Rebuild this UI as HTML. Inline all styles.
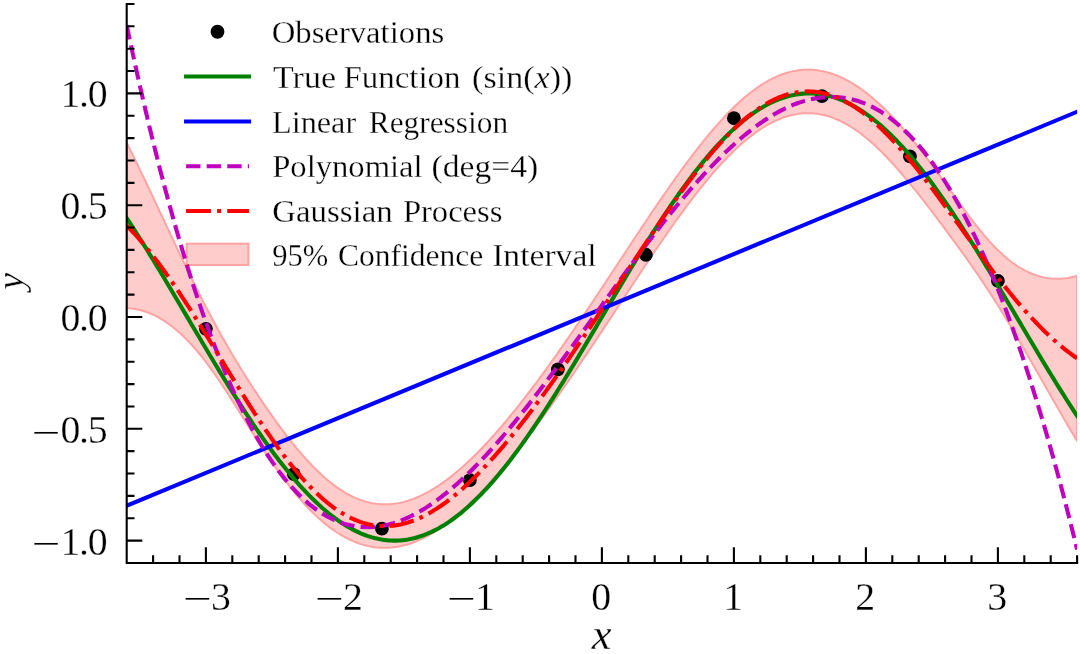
<!DOCTYPE html>
<html><head><meta charset="utf-8"><title>GP regression</title>
<style>html,body{margin:0;padding:0;background:#fff;overflow:hidden;}svg{display:block;will-change:transform;}text{font-family:"Liberation Serif",serif;fill:#000;stroke:#fff;stroke-width:0.3px;}</style></head>
<body>
<svg width="1080" height="654" viewBox="0 0 1080 654">
<rect width="1080" height="654" fill="#fff"/>
<defs><clipPath id="ax"><rect x="126.70" y="3.96" width="950.40" height="559.00"/></clipPath></defs>
<g clip-path="url(#ax)">
<g opacity="0.2"><path d="M126.70 142.98 L129.08 147.74 L131.46 152.54 L133.85 157.38 L136.23 162.25 L138.61 167.15 L140.99 172.08 L143.37 177.03 L145.76 182.01 L148.14 187.01 L150.52 192.02 L152.90 197.05 L155.28 202.10 L157.67 207.15 L160.05 212.21 L162.43 217.28 L164.81 222.35 L167.19 227.41 L169.58 232.48 L171.96 237.53 L174.34 242.57 L176.72 247.60 L179.10 252.62 L181.48 257.61 L183.87 262.58 L186.25 267.52 L188.63 272.43 L191.01 277.31 L193.39 282.15 L195.78 286.96 L198.16 291.72 L200.54 296.44 L202.92 301.11 L205.30 305.74 L207.69 310.31 L210.07 314.83 L212.45 319.30 L214.83 323.72 L217.21 328.08 L219.60 332.39 L221.98 336.65 L224.36 340.86 L226.74 345.01 L229.12 349.12 L231.51 353.17 L233.89 357.18 L236.27 361.15 L238.65 365.07 L241.03 368.95 L243.42 372.79 L245.80 376.59 L248.18 380.35 L250.56 384.07 L252.94 387.76 L255.33 391.41 L257.71 395.02 L260.09 398.60 L262.47 402.13 L264.85 405.63 L267.24 409.10 L269.62 412.52 L272.00 415.91 L274.38 419.25 L276.76 422.55 L279.15 425.81 L281.53 429.02 L283.91 432.19 L286.29 435.31 L288.67 438.38 L291.05 441.40 L293.44 444.37 L295.82 447.28 L298.20 450.13 L300.58 452.93 L302.96 455.67 L305.35 458.35 L307.73 460.97 L310.11 463.52 L312.49 466.00 L314.87 468.42 L317.26 470.77 L319.64 473.04 L322.02 475.25 L324.40 477.38 L326.78 479.44 L329.17 481.42 L331.55 483.32 L333.93 485.15 L336.31 486.89 L338.69 488.56 L341.08 490.14 L343.46 491.65 L345.84 493.07 L348.22 494.40 L350.60 495.66 L352.99 496.83 L355.37 497.91 L357.75 498.91 L360.13 499.83 L362.51 500.66 L364.90 501.40 L367.28 502.07 L369.66 502.64 L372.04 503.14 L374.42 503.54 L376.81 503.87 L379.19 504.11 L381.57 504.27 L383.95 504.35 L386.33 504.34 L388.72 504.26 L391.10 504.09 L393.48 503.85 L395.86 503.53 L398.24 503.13 L400.62 502.66 L403.01 502.10 L405.39 501.48 L407.77 500.78 L410.15 500.01 L412.53 499.17 L414.92 498.25 L417.30 497.27 L419.68 496.22 L422.06 495.10 L424.44 493.92 L426.83 492.67 L429.21 491.36 L431.59 489.98 L433.97 488.55 L436.35 487.05 L438.74 485.49 L441.12 483.88 L443.50 482.20 L445.88 480.47 L448.26 478.69 L450.65 476.85 L453.03 474.96 L455.41 473.02 L457.79 471.02 L460.17 468.98 L462.56 466.88 L464.94 464.74 L467.32 462.55 L469.70 460.32 L472.08 458.04 L474.47 455.71 L476.85 453.34 L479.23 450.93 L481.61 448.48 L483.99 445.99 L486.38 443.45 L488.76 440.88 L491.14 438.27 L493.52 435.63 L495.90 432.94 L498.28 430.22 L500.67 427.47 L503.05 424.68 L505.43 421.86 L507.81 419.01 L510.19 416.12 L512.58 413.20 L514.96 410.26 L517.34 407.28 L519.72 404.27 L522.10 401.24 L524.49 398.18 L526.87 395.09 L529.25 391.98 L531.63 388.84 L534.01 385.68 L536.40 382.49 L538.78 379.28 L541.16 376.05 L543.54 372.79 L545.92 369.51 L548.31 366.22 L550.69 362.90 L553.07 359.56 L555.45 356.21 L557.83 352.83 L560.22 349.44 L562.60 346.03 L564.98 342.61 L567.36 339.17 L569.74 335.71 L572.13 332.24 L574.51 328.76 L576.89 325.26 L579.27 321.75 L581.65 318.23 L584.04 314.70 L586.42 311.16 L588.80 307.61 L591.18 304.04 L593.56 300.47 L595.95 296.90 L598.33 293.31 L600.71 289.72 L603.09 286.12 L605.47 282.52 L607.85 278.91 L610.24 275.30 L612.62 271.69 L615.00 268.07 L617.38 264.46 L619.76 260.84 L622.15 257.22 L624.53 253.61 L626.91 249.99 L629.29 246.38 L631.67 242.77 L634.06 239.17 L636.44 235.57 L638.82 231.98 L641.20 228.40 L643.58 224.83 L645.97 221.26 L648.35 217.71 L650.73 214.17 L653.11 210.64 L655.49 207.12 L657.88 203.62 L660.26 200.13 L662.64 196.66 L665.02 193.21 L667.40 189.78 L669.79 186.37 L672.17 182.99 L674.55 179.62 L676.93 176.28 L679.31 172.97 L681.70 169.68 L684.08 166.42 L686.46 163.20 L688.84 160.00 L691.22 156.83 L693.61 153.70 L695.99 150.61 L698.37 147.55 L700.75 144.53 L703.13 141.55 L705.52 138.61 L707.90 135.71 L710.28 132.86 L712.66 130.05 L715.04 127.29 L717.42 124.58 L719.81 121.92 L722.19 119.31 L724.57 116.75 L726.95 114.25 L729.33 111.80 L731.72 109.41 L734.10 107.08 L736.48 104.80 L738.86 102.59 L741.24 100.44 L743.63 98.36 L746.01 96.34 L748.39 94.38 L750.77 92.49 L753.15 90.67 L755.54 88.92 L757.92 87.24 L760.30 85.64 L762.68 84.10 L765.06 82.64 L767.45 81.26 L769.83 79.94 L772.21 78.71 L774.59 77.55 L776.97 76.47 L779.36 75.47 L781.74 74.54 L784.12 73.70 L786.50 72.93 L788.88 72.25 L791.27 71.64 L793.65 71.12 L796.03 70.67 L798.41 70.31 L800.79 70.03 L803.18 69.83 L805.56 69.71 L807.94 69.67 L810.32 69.71 L812.70 69.84 L815.08 70.04 L817.47 70.33 L819.85 70.69 L822.23 71.13 L824.61 71.65 L826.99 72.25 L829.38 72.93 L831.76 73.69 L834.14 74.52 L836.52 75.43 L838.90 76.42 L841.29 77.48 L843.67 78.61 L846.05 79.82 L848.43 81.10 L850.81 82.46 L853.20 83.88 L855.58 85.38 L857.96 86.95 L860.34 88.58 L862.72 90.28 L865.11 92.06 L867.49 93.89 L869.87 95.80 L872.25 97.77 L874.63 99.80 L877.02 101.89 L879.40 104.05 L881.78 106.27 L884.16 108.55 L886.54 110.89 L888.93 113.29 L891.31 115.74 L893.69 118.25 L896.07 120.81 L898.45 123.43 L900.84 126.10 L903.22 128.82 L905.60 131.59 L907.98 134.41 L910.36 137.28 L912.75 140.19 L915.13 143.14 L917.51 146.14 L919.89 149.17 L922.27 152.24 L924.65 155.35 L927.04 158.49 L929.42 161.67 L931.80 164.87 L934.18 168.10 L936.56 171.35 L938.95 174.62 L941.33 177.91 L943.71 181.21 L946.09 184.52 L948.47 187.85 L950.86 191.17 L953.24 194.49 L955.62 197.81 L958.00 201.12 L960.38 204.41 L962.77 207.68 L965.15 210.93 L967.53 214.14 L969.91 217.32 L972.29 220.46 L974.68 223.55 L977.06 226.59 L979.44 229.57 L981.82 232.49 L984.20 235.34 L986.59 238.12 L988.97 240.82 L991.35 243.45 L993.73 245.98 L996.11 248.43 L998.50 250.79 L1000.88 253.06 L1003.26 255.24 L1005.64 257.32 L1008.02 259.30 L1010.41 261.19 L1012.79 262.98 L1015.17 264.67 L1017.55 266.26 L1019.93 267.76 L1022.32 269.15 L1024.70 270.45 L1027.08 271.66 L1029.46 272.76 L1031.84 273.77 L1034.22 274.69 L1036.61 275.51 L1038.99 276.24 L1041.37 276.87 L1043.75 277.41 L1046.13 277.86 L1048.52 278.22 L1050.90 278.49 L1053.28 278.67 L1055.66 278.76 L1058.04 278.76 L1060.43 278.68 L1062.81 278.52 L1065.19 278.26 L1067.57 277.93 L1069.95 277.51 L1072.34 277.02 L1074.72 276.44 L1077.10 275.79 L1077.10 440.99 L1074.72 437.00 L1072.34 432.98 L1069.95 428.95 L1067.57 424.89 L1065.19 420.81 L1062.81 416.71 L1060.43 412.59 L1058.04 408.46 L1055.66 404.32 L1053.28 400.16 L1050.90 396.00 L1048.52 391.83 L1046.13 387.65 L1043.75 383.47 L1041.37 379.28 L1038.99 375.10 L1036.61 370.92 L1034.22 366.74 L1031.84 362.58 L1029.46 358.42 L1027.08 354.27 L1024.70 350.14 L1022.32 346.02 L1019.93 341.93 L1017.55 337.85 L1015.17 333.80 L1012.79 329.78 L1010.41 325.78 L1008.02 321.81 L1005.64 317.88 L1003.26 313.98 L1000.88 310.12 L998.50 306.29 L996.11 302.50 L993.73 298.75 L991.35 295.04 L988.97 291.37 L986.59 287.73 L984.20 284.14 L981.82 280.58 L979.44 277.05 L977.06 273.56 L974.68 270.10 L972.29 266.67 L969.91 263.27 L967.53 259.89 L965.15 256.54 L962.77 253.21 L960.38 249.89 L958.00 246.60 L955.62 243.32 L953.24 240.06 L950.86 236.81 L948.47 233.58 L946.09 230.36 L943.71 227.16 L941.33 223.97 L938.95 220.79 L936.56 217.63 L934.18 214.48 L931.80 211.35 L929.42 208.24 L927.04 205.14 L924.65 202.07 L922.27 199.01 L919.89 195.98 L917.51 192.97 L915.13 189.99 L912.75 187.04 L910.36 184.12 L907.98 181.23 L905.60 178.37 L903.22 175.55 L900.84 172.77 L898.45 170.02 L896.07 167.32 L893.69 164.67 L891.31 162.06 L888.93 159.50 L886.54 156.99 L884.16 154.53 L881.78 152.13 L879.40 149.79 L877.02 147.50 L874.63 145.28 L872.25 143.11 L869.87 141.01 L867.49 138.98 L865.11 137.02 L862.72 135.12 L860.34 133.30 L857.96 131.55 L855.58 129.87 L853.20 128.26 L850.81 126.74 L848.43 125.29 L846.05 123.91 L843.67 122.62 L841.29 121.41 L838.90 120.28 L836.52 119.23 L834.14 118.26 L831.76 117.37 L829.38 116.57 L826.99 115.85 L824.61 115.22 L822.23 114.67 L819.85 114.20 L817.47 113.82 L815.08 113.53 L812.70 113.31 L810.32 113.19 L807.94 113.14 L805.56 113.18 L803.18 113.31 L800.79 113.51 L798.41 113.81 L796.03 114.18 L793.65 114.63 L791.27 115.17 L788.88 115.79 L786.50 116.49 L784.12 117.27 L781.74 118.13 L779.36 119.06 L776.97 120.08 L774.59 121.17 L772.21 122.34 L769.83 123.58 L767.45 124.90 L765.06 126.29 L762.68 127.75 L760.30 129.29 L757.92 130.89 L755.54 132.57 L753.15 134.32 L750.77 136.13 L748.39 138.01 L746.01 139.95 L743.63 141.96 L741.24 144.04 L738.86 146.17 L736.48 148.37 L734.10 150.62 L731.72 152.94 L729.33 155.31 L726.95 157.74 L724.57 160.22 L722.19 162.76 L719.81 165.35 L717.42 167.99 L715.04 170.68 L712.66 173.42 L710.28 176.21 L707.90 179.04 L705.52 181.92 L703.13 184.84 L700.75 187.80 L698.37 190.81 L695.99 193.85 L693.61 196.93 L691.22 200.05 L688.84 203.20 L686.46 206.38 L684.08 209.60 L681.70 212.85 L679.31 216.13 L676.93 219.44 L674.55 222.77 L672.17 226.13 L669.79 229.52 L667.40 232.92 L665.02 236.35 L662.64 239.80 L660.26 243.27 L657.88 246.76 L655.49 250.26 L653.11 253.78 L650.73 257.32 L648.35 260.87 L645.97 264.43 L643.58 268.00 L641.20 271.58 L638.82 275.17 L636.44 278.76 L634.06 282.37 L631.67 285.98 L629.29 289.59 L626.91 293.21 L624.53 296.83 L622.15 300.45 L619.76 304.07 L617.38 307.69 L615.00 311.31 L612.62 314.93 L610.24 318.55 L607.85 322.16 L605.47 325.77 L603.09 329.37 L600.71 332.97 L598.33 336.56 L595.95 340.14 L593.56 343.72 L591.18 347.29 L588.80 350.84 L586.42 354.39 L584.04 357.93 L581.65 361.46 L579.27 364.97 L576.89 368.48 L574.51 371.97 L572.13 375.44 L569.74 378.91 L567.36 382.36 L564.98 385.79 L562.60 389.21 L560.22 392.61 L557.83 396.00 L555.45 399.36 L553.07 402.71 L550.69 406.05 L548.31 409.36 L545.92 412.66 L543.54 415.93 L541.16 419.18 L538.78 422.42 L536.40 425.63 L534.01 428.82 L531.63 431.98 L529.25 435.13 L526.87 438.25 L524.49 441.34 L522.10 444.41 L519.72 447.45 L517.34 450.47 L514.96 453.45 L512.58 456.41 L510.19 459.34 L507.81 462.25 L505.43 465.12 L503.05 467.95 L500.67 470.76 L498.28 473.53 L495.90 476.27 L493.52 478.97 L491.14 481.64 L488.76 484.27 L486.38 486.86 L483.99 489.42 L481.61 491.93 L479.23 494.40 L476.85 496.83 L474.47 499.22 L472.08 501.57 L469.70 503.86 L467.32 506.12 L464.94 508.32 L462.56 510.48 L460.17 512.58 L457.79 514.64 L455.41 516.64 L453.03 518.60 L450.65 520.49 L448.26 522.34 L445.88 524.12 L443.50 525.85 L441.12 527.52 L438.74 529.14 L436.35 530.69 L433.97 532.18 L431.59 533.61 L429.21 534.98 L426.83 536.28 L424.44 537.52 L422.06 538.69 L419.68 539.79 L417.30 540.83 L414.92 541.80 L412.53 542.70 L410.15 543.53 L407.77 544.29 L405.39 544.97 L403.01 545.59 L400.62 546.13 L398.24 546.60 L395.86 547.00 L393.48 547.32 L391.10 547.57 L388.72 547.74 L386.33 547.84 L383.95 547.86 L381.57 547.81 L379.19 547.67 L376.81 547.47 L374.42 547.18 L372.04 546.82 L369.66 546.38 L367.28 545.86 L364.90 545.26 L362.51 544.59 L360.13 543.84 L357.75 543.00 L355.37 542.09 L352.99 541.11 L350.60 540.04 L348.22 538.89 L345.84 537.67 L343.46 536.36 L341.08 534.98 L338.69 533.52 L336.31 531.98 L333.93 530.37 L331.55 528.67 L329.17 526.90 L326.78 525.04 L324.40 523.12 L322.02 521.11 L319.64 519.03 L317.26 516.87 L314.87 514.63 L312.49 512.32 L310.11 509.93 L307.73 507.47 L305.35 504.94 L302.96 502.34 L300.58 499.66 L298.20 496.91 L295.82 494.09 L293.44 491.20 L291.05 488.25 L288.67 485.23 L286.29 482.15 L283.91 479.00 L281.53 475.79 L279.15 472.52 L276.76 469.20 L274.38 465.82 L272.00 462.39 L269.62 458.91 L267.24 455.38 L264.85 451.81 L262.47 448.19 L260.09 444.54 L257.71 440.86 L255.33 437.14 L252.94 433.40 L250.56 429.64 L248.18 425.86 L245.80 422.07 L243.42 418.28 L241.03 414.48 L238.65 410.68 L236.27 406.90 L233.89 403.13 L231.51 399.38 L229.12 395.67 L226.74 391.98 L224.36 388.34 L221.98 384.74 L219.60 381.19 L217.21 377.69 L214.83 374.26 L212.45 370.90 L210.07 367.60 L207.69 364.38 L205.30 361.23 L202.92 358.17 L200.54 355.18 L198.16 352.28 L195.78 349.47 L193.39 346.75 L191.01 344.11 L188.63 341.56 L186.25 339.11 L183.87 336.75 L181.48 334.48 L179.10 332.30 L176.72 330.22 L174.34 328.23 L171.96 326.33 L169.58 324.53 L167.19 322.82 L164.81 321.21 L162.43 319.69 L160.05 318.27 L157.67 316.94 L155.28 315.70 L152.90 314.56 L150.52 313.52 L148.14 312.56 L145.76 311.71 L143.37 310.94 L140.99 310.27 L138.61 309.69 L136.23 309.21 L133.85 308.81 L131.46 308.51 L129.08 308.30 L126.70 308.18 Z" fill="#f00" stroke="#f00" stroke-width="2.00" stroke-linejoin="round"/></g>
<path d="M126.70 142.98 L129.08 147.74 L131.46 152.54 L133.85 157.38 L136.23 162.25 L138.61 167.15 L140.99 172.08 L143.37 177.03 L145.76 182.01 L148.14 187.01 L150.52 192.02 L152.90 197.05 L155.28 202.10 L157.67 207.15 L160.05 212.21 L162.43 217.28 L164.81 222.35 L167.19 227.41 L169.58 232.48 L171.96 237.53 L174.34 242.57 L176.72 247.60 L179.10 252.62 L181.48 257.61 L183.87 262.58 L186.25 267.52 L188.63 272.43 L191.01 277.31 L193.39 282.15 L195.78 286.96 L198.16 291.72 L200.54 296.44 L202.92 301.11 L205.30 305.74 L207.69 310.31 L210.07 314.83 L212.45 319.30 L214.83 323.72 L217.21 328.08 L219.60 332.39 L221.98 336.65 L224.36 340.86 L226.74 345.01 L229.12 349.12 L231.51 353.17 L233.89 357.18 L236.27 361.15 L238.65 365.07 L241.03 368.95 L243.42 372.79 L245.80 376.59 L248.18 380.35 L250.56 384.07 L252.94 387.76 L255.33 391.41 L257.71 395.02 L260.09 398.60 L262.47 402.13 L264.85 405.63 L267.24 409.10 L269.62 412.52 L272.00 415.91 L274.38 419.25 L276.76 422.55 L279.15 425.81 L281.53 429.02 L283.91 432.19 L286.29 435.31 L288.67 438.38 L291.05 441.40 L293.44 444.37 L295.82 447.28 L298.20 450.13 L300.58 452.93 L302.96 455.67 L305.35 458.35 L307.73 460.97 L310.11 463.52 L312.49 466.00 L314.87 468.42 L317.26 470.77 L319.64 473.04 L322.02 475.25 L324.40 477.38 L326.78 479.44 L329.17 481.42 L331.55 483.32 L333.93 485.15 L336.31 486.89 L338.69 488.56 L341.08 490.14 L343.46 491.65 L345.84 493.07 L348.22 494.40 L350.60 495.66 L352.99 496.83 L355.37 497.91 L357.75 498.91 L360.13 499.83 L362.51 500.66 L364.90 501.40 L367.28 502.07 L369.66 502.64 L372.04 503.14 L374.42 503.54 L376.81 503.87 L379.19 504.11 L381.57 504.27 L383.95 504.35 L386.33 504.34 L388.72 504.26 L391.10 504.09 L393.48 503.85 L395.86 503.53 L398.24 503.13 L400.62 502.66 L403.01 502.10 L405.39 501.48 L407.77 500.78 L410.15 500.01 L412.53 499.17 L414.92 498.25 L417.30 497.27 L419.68 496.22 L422.06 495.10 L424.44 493.92 L426.83 492.67 L429.21 491.36 L431.59 489.98 L433.97 488.55 L436.35 487.05 L438.74 485.49 L441.12 483.88 L443.50 482.20 L445.88 480.47 L448.26 478.69 L450.65 476.85 L453.03 474.96 L455.41 473.02 L457.79 471.02 L460.17 468.98 L462.56 466.88 L464.94 464.74 L467.32 462.55 L469.70 460.32 L472.08 458.04 L474.47 455.71 L476.85 453.34 L479.23 450.93 L481.61 448.48 L483.99 445.99 L486.38 443.45 L488.76 440.88 L491.14 438.27 L493.52 435.63 L495.90 432.94 L498.28 430.22 L500.67 427.47 L503.05 424.68 L505.43 421.86 L507.81 419.01 L510.19 416.12 L512.58 413.20 L514.96 410.26 L517.34 407.28 L519.72 404.27 L522.10 401.24 L524.49 398.18 L526.87 395.09 L529.25 391.98 L531.63 388.84 L534.01 385.68 L536.40 382.49 L538.78 379.28 L541.16 376.05 L543.54 372.79 L545.92 369.51 L548.31 366.22 L550.69 362.90 L553.07 359.56 L555.45 356.21 L557.83 352.83 L560.22 349.44 L562.60 346.03 L564.98 342.61 L567.36 339.17 L569.74 335.71 L572.13 332.24 L574.51 328.76 L576.89 325.26 L579.27 321.75 L581.65 318.23 L584.04 314.70 L586.42 311.16 L588.80 307.61 L591.18 304.04 L593.56 300.47 L595.95 296.90 L598.33 293.31 L600.71 289.72 L603.09 286.12 L605.47 282.52 L607.85 278.91 L610.24 275.30 L612.62 271.69 L615.00 268.07 L617.38 264.46 L619.76 260.84 L622.15 257.22 L624.53 253.61 L626.91 249.99 L629.29 246.38 L631.67 242.77 L634.06 239.17 L636.44 235.57 L638.82 231.98 L641.20 228.40 L643.58 224.83 L645.97 221.26 L648.35 217.71 L650.73 214.17 L653.11 210.64 L655.49 207.12 L657.88 203.62 L660.26 200.13 L662.64 196.66 L665.02 193.21 L667.40 189.78 L669.79 186.37 L672.17 182.99 L674.55 179.62 L676.93 176.28 L679.31 172.97 L681.70 169.68 L684.08 166.42 L686.46 163.20 L688.84 160.00 L691.22 156.83 L693.61 153.70 L695.99 150.61 L698.37 147.55 L700.75 144.53 L703.13 141.55 L705.52 138.61 L707.90 135.71 L710.28 132.86 L712.66 130.05 L715.04 127.29 L717.42 124.58 L719.81 121.92 L722.19 119.31 L724.57 116.75 L726.95 114.25 L729.33 111.80 L731.72 109.41 L734.10 107.08 L736.48 104.80 L738.86 102.59 L741.24 100.44 L743.63 98.36 L746.01 96.34 L748.39 94.38 L750.77 92.49 L753.15 90.67 L755.54 88.92 L757.92 87.24 L760.30 85.64 L762.68 84.10 L765.06 82.64 L767.45 81.26 L769.83 79.94 L772.21 78.71 L774.59 77.55 L776.97 76.47 L779.36 75.47 L781.74 74.54 L784.12 73.70 L786.50 72.93 L788.88 72.25 L791.27 71.64 L793.65 71.12 L796.03 70.67 L798.41 70.31 L800.79 70.03 L803.18 69.83 L805.56 69.71 L807.94 69.67 L810.32 69.71 L812.70 69.84 L815.08 70.04 L817.47 70.33 L819.85 70.69 L822.23 71.13 L824.61 71.65 L826.99 72.25 L829.38 72.93 L831.76 73.69 L834.14 74.52 L836.52 75.43 L838.90 76.42 L841.29 77.48 L843.67 78.61 L846.05 79.82 L848.43 81.10 L850.81 82.46 L853.20 83.88 L855.58 85.38 L857.96 86.95 L860.34 88.58 L862.72 90.28 L865.11 92.06 L867.49 93.89 L869.87 95.80 L872.25 97.77 L874.63 99.80 L877.02 101.89 L879.40 104.05 L881.78 106.27 L884.16 108.55 L886.54 110.89 L888.93 113.29 L891.31 115.74 L893.69 118.25 L896.07 120.81 L898.45 123.43 L900.84 126.10 L903.22 128.82 L905.60 131.59 L907.98 134.41 L910.36 137.28 L912.75 140.19 L915.13 143.14 L917.51 146.14 L919.89 149.17 L922.27 152.24 L924.65 155.35 L927.04 158.49 L929.42 161.67 L931.80 164.87 L934.18 168.10 L936.56 171.35 L938.95 174.62 L941.33 177.91 L943.71 181.21 L946.09 184.52 L948.47 187.85 L950.86 191.17 L953.24 194.49 L955.62 197.81 L958.00 201.12 L960.38 204.41 L962.77 207.68 L965.15 210.93 L967.53 214.14 L969.91 217.32 L972.29 220.46 L974.68 223.55 L977.06 226.59 L979.44 229.57 L981.82 232.49 L984.20 235.34 L986.59 238.12 L988.97 240.82 L991.35 243.45 L993.73 245.98 L996.11 248.43 L998.50 250.79 L1000.88 253.06 L1003.26 255.24 L1005.64 257.32 L1008.02 259.30 L1010.41 261.19 L1012.79 262.98 L1015.17 264.67 L1017.55 266.26 L1019.93 267.76 L1022.32 269.15 L1024.70 270.45 L1027.08 271.66 L1029.46 272.76 L1031.84 273.77 L1034.22 274.69 L1036.61 275.51 L1038.99 276.24 L1041.37 276.87 L1043.75 277.41 L1046.13 277.86 L1048.52 278.22 L1050.90 278.49 L1053.28 278.67 L1055.66 278.76 L1058.04 278.76 L1060.43 278.68 L1062.81 278.52 L1065.19 278.26 L1067.57 277.93 L1069.95 277.51 L1072.34 277.02 L1074.72 276.44 L1077.10 275.79 L1077.10 440.99 L1074.72 437.00 L1072.34 432.98 L1069.95 428.95 L1067.57 424.89 L1065.19 420.81 L1062.81 416.71 L1060.43 412.59 L1058.04 408.46 L1055.66 404.32 L1053.28 400.16 L1050.90 396.00 L1048.52 391.83 L1046.13 387.65 L1043.75 383.47 L1041.37 379.28 L1038.99 375.10 L1036.61 370.92 L1034.22 366.74 L1031.84 362.58 L1029.46 358.42 L1027.08 354.27 L1024.70 350.14 L1022.32 346.02 L1019.93 341.93 L1017.55 337.85 L1015.17 333.80 L1012.79 329.78 L1010.41 325.78 L1008.02 321.81 L1005.64 317.88 L1003.26 313.98 L1000.88 310.12 L998.50 306.29 L996.11 302.50 L993.73 298.75 L991.35 295.04 L988.97 291.37 L986.59 287.73 L984.20 284.14 L981.82 280.58 L979.44 277.05 L977.06 273.56 L974.68 270.10 L972.29 266.67 L969.91 263.27 L967.53 259.89 L965.15 256.54 L962.77 253.21 L960.38 249.89 L958.00 246.60 L955.62 243.32 L953.24 240.06 L950.86 236.81 L948.47 233.58 L946.09 230.36 L943.71 227.16 L941.33 223.97 L938.95 220.79 L936.56 217.63 L934.18 214.48 L931.80 211.35 L929.42 208.24 L927.04 205.14 L924.65 202.07 L922.27 199.01 L919.89 195.98 L917.51 192.97 L915.13 189.99 L912.75 187.04 L910.36 184.12 L907.98 181.23 L905.60 178.37 L903.22 175.55 L900.84 172.77 L898.45 170.02 L896.07 167.32 L893.69 164.67 L891.31 162.06 L888.93 159.50 L886.54 156.99 L884.16 154.53 L881.78 152.13 L879.40 149.79 L877.02 147.50 L874.63 145.28 L872.25 143.11 L869.87 141.01 L867.49 138.98 L865.11 137.02 L862.72 135.12 L860.34 133.30 L857.96 131.55 L855.58 129.87 L853.20 128.26 L850.81 126.74 L848.43 125.29 L846.05 123.91 L843.67 122.62 L841.29 121.41 L838.90 120.28 L836.52 119.23 L834.14 118.26 L831.76 117.37 L829.38 116.57 L826.99 115.85 L824.61 115.22 L822.23 114.67 L819.85 114.20 L817.47 113.82 L815.08 113.53 L812.70 113.31 L810.32 113.19 L807.94 113.14 L805.56 113.18 L803.18 113.31 L800.79 113.51 L798.41 113.81 L796.03 114.18 L793.65 114.63 L791.27 115.17 L788.88 115.79 L786.50 116.49 L784.12 117.27 L781.74 118.13 L779.36 119.06 L776.97 120.08 L774.59 121.17 L772.21 122.34 L769.83 123.58 L767.45 124.90 L765.06 126.29 L762.68 127.75 L760.30 129.29 L757.92 130.89 L755.54 132.57 L753.15 134.32 L750.77 136.13 L748.39 138.01 L746.01 139.95 L743.63 141.96 L741.24 144.04 L738.86 146.17 L736.48 148.37 L734.10 150.62 L731.72 152.94 L729.33 155.31 L726.95 157.74 L724.57 160.22 L722.19 162.76 L719.81 165.35 L717.42 167.99 L715.04 170.68 L712.66 173.42 L710.28 176.21 L707.90 179.04 L705.52 181.92 L703.13 184.84 L700.75 187.80 L698.37 190.81 L695.99 193.85 L693.61 196.93 L691.22 200.05 L688.84 203.20 L686.46 206.38 L684.08 209.60 L681.70 212.85 L679.31 216.13 L676.93 219.44 L674.55 222.77 L672.17 226.13 L669.79 229.52 L667.40 232.92 L665.02 236.35 L662.64 239.80 L660.26 243.27 L657.88 246.76 L655.49 250.26 L653.11 253.78 L650.73 257.32 L648.35 260.87 L645.97 264.43 L643.58 268.00 L641.20 271.58 L638.82 275.17 L636.44 278.76 L634.06 282.37 L631.67 285.98 L629.29 289.59 L626.91 293.21 L624.53 296.83 L622.15 300.45 L619.76 304.07 L617.38 307.69 L615.00 311.31 L612.62 314.93 L610.24 318.55 L607.85 322.16 L605.47 325.77 L603.09 329.37 L600.71 332.97 L598.33 336.56 L595.95 340.14 L593.56 343.72 L591.18 347.29 L588.80 350.84 L586.42 354.39 L584.04 357.93 L581.65 361.46 L579.27 364.97 L576.89 368.48 L574.51 371.97 L572.13 375.44 L569.74 378.91 L567.36 382.36 L564.98 385.79 L562.60 389.21 L560.22 392.61 L557.83 396.00 L555.45 399.36 L553.07 402.71 L550.69 406.05 L548.31 409.36 L545.92 412.66 L543.54 415.93 L541.16 419.18 L538.78 422.42 L536.40 425.63 L534.01 428.82 L531.63 431.98 L529.25 435.13 L526.87 438.25 L524.49 441.34 L522.10 444.41 L519.72 447.45 L517.34 450.47 L514.96 453.45 L512.58 456.41 L510.19 459.34 L507.81 462.25 L505.43 465.12 L503.05 467.95 L500.67 470.76 L498.28 473.53 L495.90 476.27 L493.52 478.97 L491.14 481.64 L488.76 484.27 L486.38 486.86 L483.99 489.42 L481.61 491.93 L479.23 494.40 L476.85 496.83 L474.47 499.22 L472.08 501.57 L469.70 503.86 L467.32 506.12 L464.94 508.32 L462.56 510.48 L460.17 512.58 L457.79 514.64 L455.41 516.64 L453.03 518.60 L450.65 520.49 L448.26 522.34 L445.88 524.12 L443.50 525.85 L441.12 527.52 L438.74 529.14 L436.35 530.69 L433.97 532.18 L431.59 533.61 L429.21 534.98 L426.83 536.28 L424.44 537.52 L422.06 538.69 L419.68 539.79 L417.30 540.83 L414.92 541.80 L412.53 542.70 L410.15 543.53 L407.77 544.29 L405.39 544.97 L403.01 545.59 L400.62 546.13 L398.24 546.60 L395.86 547.00 L393.48 547.32 L391.10 547.57 L388.72 547.74 L386.33 547.84 L383.95 547.86 L381.57 547.81 L379.19 547.67 L376.81 547.47 L374.42 547.18 L372.04 546.82 L369.66 546.38 L367.28 545.86 L364.90 545.26 L362.51 544.59 L360.13 543.84 L357.75 543.00 L355.37 542.09 L352.99 541.11 L350.60 540.04 L348.22 538.89 L345.84 537.67 L343.46 536.36 L341.08 534.98 L338.69 533.52 L336.31 531.98 L333.93 530.37 L331.55 528.67 L329.17 526.90 L326.78 525.04 L324.40 523.12 L322.02 521.11 L319.64 519.03 L317.26 516.87 L314.87 514.63 L312.49 512.32 L310.11 509.93 L307.73 507.47 L305.35 504.94 L302.96 502.34 L300.58 499.66 L298.20 496.91 L295.82 494.09 L293.44 491.20 L291.05 488.25 L288.67 485.23 L286.29 482.15 L283.91 479.00 L281.53 475.79 L279.15 472.52 L276.76 469.20 L274.38 465.82 L272.00 462.39 L269.62 458.91 L267.24 455.38 L264.85 451.81 L262.47 448.19 L260.09 444.54 L257.71 440.86 L255.33 437.14 L252.94 433.40 L250.56 429.64 L248.18 425.86 L245.80 422.07 L243.42 418.28 L241.03 414.48 L238.65 410.68 L236.27 406.90 L233.89 403.13 L231.51 399.38 L229.12 395.67 L226.74 391.98 L224.36 388.34 L221.98 384.74 L219.60 381.19 L217.21 377.69 L214.83 374.26 L212.45 370.90 L210.07 367.60 L207.69 364.38 L205.30 361.23 L202.92 358.17 L200.54 355.18 L198.16 352.28 L195.78 349.47 L193.39 346.75 L191.01 344.11 L188.63 341.56 L186.25 339.11 L183.87 336.75 L181.48 334.48 L179.10 332.30 L176.72 330.22 L174.34 328.23 L171.96 326.33 L169.58 324.53 L167.19 322.82 L164.81 321.21 L162.43 319.69 L160.05 318.27 L157.67 316.94 L155.28 315.70 L152.90 314.56 L150.52 313.52 L148.14 312.56 L145.76 311.71 L143.37 310.94 L140.99 310.27 L138.61 309.69 L136.23 309.21 L133.85 308.81 L131.46 308.51 L129.08 308.30 L126.70 308.18 Z" fill="none" stroke="rgba(255,0,0,0.2)" stroke-width="2.00" stroke-linejoin="round"/>
<circle cx="205.90" cy="328.83" r="6.90" fill="#000"/>
<circle cx="293.90" cy="474.21" r="6.90" fill="#000"/>
<circle cx="381.90" cy="528.63" r="6.90" fill="#000"/>
<circle cx="469.90" cy="480.10" r="6.90" fill="#000"/>
<circle cx="557.90" cy="369.28" r="6.90" fill="#000"/>
<circle cx="645.90" cy="254.77" r="6.90" fill="#000"/>
<circle cx="733.90" cy="118.23" r="6.90" fill="#000"/>
<circle cx="821.90" cy="96.12" r="6.90" fill="#000"/>
<circle cx="909.90" cy="156.47" r="6.90" fill="#000"/>
<circle cx="997.90" cy="280.86" r="6.90" fill="#000"/>
<path d="M126.70 218.05 L129.08 221.69 L131.46 225.35 L133.85 229.05 L136.23 232.77 L138.61 236.52 L140.99 240.30 L143.37 244.10 L145.76 247.93 L148.14 251.78 L150.52 255.65 L152.90 259.54 L155.28 263.44 L157.67 267.37 L160.05 271.31 L162.43 275.27 L164.81 279.24 L167.19 283.22 L169.58 287.22 L171.96 291.22 L174.34 295.23 L176.72 299.25 L179.10 303.28 L181.48 307.31 L183.87 311.34 L186.25 315.37 L188.63 319.41 L191.01 323.44 L193.39 327.47 L195.78 331.50 L198.16 335.53 L200.54 339.54 L202.92 343.55 L205.30 347.56 L207.69 351.55 L210.07 355.53 L212.45 359.50 L214.83 363.45 L217.21 367.39 L219.60 371.31 L221.98 375.22 L224.36 379.10 L226.74 382.97 L229.12 386.81 L231.51 390.63 L233.89 394.43 L236.27 398.20 L238.65 401.95 L241.03 405.67 L243.42 409.36 L245.80 413.02 L248.18 416.65 L250.56 420.24 L252.94 423.80 L255.33 427.33 L257.71 430.82 L260.09 434.28 L262.47 437.69 L264.85 441.07 L267.24 444.41 L269.62 447.70 L272.00 450.95 L274.38 454.16 L276.76 457.33 L279.15 460.44 L281.53 463.52 L283.91 466.54 L286.29 469.52 L288.67 472.44 L291.05 475.32 L293.44 478.14 L295.82 480.91 L298.20 483.63 L300.58 486.29 L302.96 488.90 L305.35 491.45 L307.73 493.95 L310.11 496.38 L312.49 498.76 L314.87 501.08 L317.26 503.34 L319.64 505.54 L322.02 507.68 L324.40 509.76 L326.78 511.77 L329.17 513.72 L331.55 515.61 L333.93 517.43 L336.31 519.18 L338.69 520.87 L341.08 522.50 L343.46 524.06 L345.84 525.54 L348.22 526.97 L350.60 528.32 L352.99 529.60 L355.37 530.82 L357.75 531.96 L360.13 533.04 L362.51 534.04 L364.90 534.98 L367.28 535.84 L369.66 536.63 L372.04 537.36 L374.42 538.00 L376.81 538.58 L379.19 539.09 L381.57 539.52 L383.95 539.88 L386.33 540.17 L388.72 540.38 L391.10 540.52 L393.48 540.59 L395.86 540.59 L398.24 540.51 L400.62 540.36 L403.01 540.14 L405.39 539.85 L407.77 539.48 L410.15 539.04 L412.53 538.53 L414.92 537.95 L417.30 537.29 L419.68 536.56 L422.06 535.76 L424.44 534.89 L426.83 533.95 L429.21 532.94 L431.59 531.86 L433.97 530.70 L436.35 529.48 L438.74 528.19 L441.12 526.83 L443.50 525.40 L445.88 523.91 L448.26 522.34 L450.65 520.71 L453.03 519.02 L455.41 517.26 L457.79 515.43 L460.17 513.54 L462.56 511.58 L464.94 509.56 L467.32 507.48 L469.70 505.33 L472.08 503.13 L474.47 500.86 L476.85 498.54 L479.23 496.15 L481.61 493.71 L483.99 491.21 L486.38 488.65 L488.76 486.04 L491.14 483.37 L493.52 480.64 L495.90 477.87 L498.28 475.04 L500.67 472.16 L503.05 469.23 L505.43 466.25 L507.81 463.22 L510.19 460.14 L512.58 457.02 L514.96 453.85 L517.34 450.64 L519.72 447.38 L522.10 444.09 L524.49 440.74 L526.87 437.36 L529.25 433.94 L531.63 430.49 L534.01 426.99 L536.40 423.46 L538.78 419.90 L541.16 416.30 L543.54 412.67 L545.92 409.00 L548.31 405.31 L550.69 401.59 L553.07 397.84 L555.45 394.07 L557.83 390.27 L560.22 386.44 L562.60 382.60 L564.98 378.73 L567.36 374.84 L569.74 370.93 L572.13 367.01 L574.51 363.07 L576.89 359.11 L579.27 355.14 L581.65 351.16 L584.04 347.17 L586.42 343.17 L588.80 339.16 L591.18 335.14 L593.56 331.11 L595.95 327.08 L598.33 323.05 L600.71 319.02 L603.09 314.98 L605.47 310.95 L607.85 306.92 L610.24 302.89 L612.62 298.86 L615.00 294.84 L617.38 290.83 L619.76 286.83 L622.15 282.84 L624.53 278.86 L626.91 274.89 L629.29 270.93 L631.67 266.99 L634.06 263.07 L636.44 259.16 L638.82 255.27 L641.20 251.40 L643.58 247.56 L645.97 243.73 L648.35 239.93 L650.73 236.16 L653.11 232.41 L655.49 228.69 L657.88 225.00 L660.26 221.33 L662.64 217.70 L665.02 214.10 L667.40 210.54 L669.79 207.01 L672.17 203.51 L674.55 200.06 L676.93 196.64 L679.31 193.26 L681.70 189.91 L684.08 186.62 L686.46 183.36 L688.84 180.15 L691.22 176.98 L693.61 173.86 L695.99 170.78 L698.37 167.75 L700.75 164.77 L703.13 161.84 L705.52 158.96 L707.90 156.13 L710.28 153.36 L712.66 150.63 L715.04 147.96 L717.42 145.35 L719.81 142.79 L722.19 140.29 L724.57 137.85 L726.95 135.46 L729.33 133.14 L731.72 130.87 L734.10 128.67 L736.48 126.52 L738.86 124.44 L741.24 122.42 L743.63 120.46 L746.01 118.57 L748.39 116.74 L750.77 114.98 L753.15 113.29 L755.54 111.66 L757.92 110.09 L760.30 108.60 L762.68 107.17 L765.06 105.81 L767.45 104.52 L769.83 103.30 L772.21 102.14 L774.59 101.06 L776.97 100.05 L779.36 99.11 L781.74 98.24 L784.12 97.44 L786.50 96.71 L788.88 96.05 L791.27 95.47 L793.65 94.96 L796.03 94.52 L798.41 94.15 L800.79 93.86 L803.18 93.64 L805.56 93.49 L807.94 93.41 L810.32 93.41 L812.70 93.48 L815.08 93.62 L817.47 93.83 L819.85 94.12 L822.23 94.48 L824.61 94.91 L826.99 95.42 L829.38 96.00 L831.76 96.64 L834.14 97.37 L836.52 98.16 L838.90 99.02 L841.29 99.96 L843.67 100.96 L846.05 102.04 L848.43 103.18 L850.81 104.40 L853.20 105.68 L855.58 107.03 L857.96 108.46 L860.34 109.94 L862.72 111.50 L865.11 113.13 L867.49 114.82 L869.87 116.57 L872.25 118.39 L874.63 120.28 L877.02 122.23 L879.40 124.24 L881.78 126.32 L884.16 128.46 L886.54 130.66 L888.93 132.92 L891.31 135.24 L893.69 137.62 L896.07 140.05 L898.45 142.55 L900.84 145.10 L903.22 147.71 L905.60 150.37 L907.98 153.09 L910.36 155.86 L912.75 158.68 L915.13 161.56 L917.51 164.48 L919.89 167.46 L922.27 170.48 L924.65 173.56 L927.04 176.67 L929.42 179.84 L931.80 183.05 L934.18 186.30 L936.56 189.59 L938.95 192.93 L941.33 196.31 L943.71 199.72 L946.09 203.18 L948.47 206.67 L950.86 210.20 L953.24 213.76 L955.62 217.35 L958.00 220.98 L960.38 224.64 L962.77 228.33 L965.15 232.05 L967.53 235.80 L969.91 239.57 L972.29 243.37 L974.68 247.19 L977.06 251.03 L979.44 254.90 L981.82 258.78 L984.20 262.69 L986.59 266.61 L988.97 270.55 L991.35 274.50 L993.73 278.47 L996.11 282.45 L998.50 286.44 L1000.88 290.45 L1003.26 294.46 L1005.64 298.47 L1008.02 302.50 L1010.41 306.53 L1012.79 310.56 L1015.17 314.59 L1017.55 318.63 L1019.93 322.66 L1022.32 326.69 L1024.70 330.72 L1027.08 334.75 L1029.46 338.77 L1031.84 342.78 L1034.22 346.78 L1036.61 350.78 L1038.99 354.76 L1041.37 358.73 L1043.75 362.69 L1046.13 366.63 L1048.52 370.56 L1050.90 374.46 L1053.28 378.35 L1055.66 382.22 L1058.04 386.07 L1060.43 389.90 L1062.81 393.70 L1065.19 397.48 L1067.57 401.23 L1069.95 404.95 L1072.34 408.65 L1074.72 412.31 L1077.10 415.95" fill="none" stroke="#008000" stroke-width="4.10" stroke-linecap="square"/>
<path d="M126.70 505.72 L1077.10 111.77" fill="none" stroke="#0000ff" stroke-width="4.10" stroke-linecap="square"/>
<path d="M126.70 25.28 L129.08 36.56 L131.46 47.68 L133.85 58.65 L136.23 69.47 L138.61 80.13 L140.99 90.64 L143.37 101.01 L145.76 111.22 L148.14 121.29 L150.52 131.20 L152.90 140.98 L155.28 150.60 L157.67 160.08 L160.05 169.42 L162.43 178.61 L164.81 187.67 L167.19 196.58 L169.58 205.35 L171.96 213.98 L174.34 222.47 L176.72 230.82 L179.10 239.04 L181.48 247.12 L183.87 255.06 L186.25 262.88 L188.63 270.55 L191.01 278.10 L193.39 285.51 L195.78 292.79 L198.16 299.94 L200.54 306.97 L202.92 313.86 L205.30 320.63 L207.69 327.26 L210.07 333.78 L212.45 340.17 L214.83 346.43 L217.21 352.57 L219.60 358.59 L221.98 364.49 L224.36 370.26 L226.74 375.92 L229.12 381.46 L231.51 386.87 L233.89 392.18 L236.27 397.36 L238.65 402.43 L241.03 407.38 L243.42 412.22 L245.80 416.95 L248.18 421.56 L250.56 426.07 L252.94 430.46 L255.33 434.74 L257.71 438.91 L260.09 442.98 L262.47 446.94 L264.85 450.79 L267.24 454.53 L269.62 458.17 L272.00 461.71 L274.38 465.14 L276.76 468.47 L279.15 471.70 L281.53 474.83 L283.91 477.86 L286.29 480.78 L288.67 483.61 L291.05 486.35 L293.44 488.98 L295.82 491.52 L298.20 493.97 L300.58 496.32 L302.96 498.58 L305.35 500.74 L307.73 502.82 L310.11 504.80 L312.49 506.69 L314.87 508.49 L317.26 510.21 L319.64 511.83 L322.02 513.37 L324.40 514.83 L326.78 516.20 L329.17 517.48 L331.55 518.68 L333.93 519.80 L336.31 520.83 L338.69 521.78 L341.08 522.66 L343.46 523.45 L345.84 524.16 L348.22 524.80 L350.60 525.36 L352.99 525.84 L355.37 526.25 L357.75 526.58 L360.13 526.84 L362.51 527.02 L364.90 527.13 L367.28 527.17 L369.66 527.14 L372.04 527.04 L374.42 526.87 L376.81 526.63 L379.19 526.32 L381.57 525.95 L383.95 525.51 L386.33 525.00 L388.72 524.43 L391.10 523.80 L393.48 523.10 L395.86 522.34 L398.24 521.52 L400.62 520.63 L403.01 519.69 L405.39 518.69 L407.77 517.63 L410.15 516.51 L412.53 515.34 L414.92 514.10 L417.30 512.82 L419.68 511.48 L422.06 510.08 L424.44 508.63 L426.83 507.13 L429.21 505.58 L431.59 503.98 L433.97 502.32 L436.35 500.62 L438.74 498.87 L441.12 497.07 L443.50 495.23 L445.88 493.34 L448.26 491.40 L450.65 489.42 L453.03 487.39 L455.41 485.32 L457.79 483.21 L460.17 481.06 L462.56 478.86 L464.94 476.63 L467.32 474.35 L469.70 472.04 L472.08 469.69 L474.47 467.30 L476.85 464.88 L479.23 462.42 L481.61 459.92 L483.99 457.40 L486.38 454.83 L488.76 452.24 L491.14 449.61 L493.52 446.95 L495.90 444.26 L498.28 441.55 L500.67 438.80 L503.05 436.02 L505.43 433.22 L507.81 430.39 L510.19 427.53 L512.58 424.65 L514.96 421.74 L517.34 418.81 L519.72 415.86 L522.10 412.88 L524.49 409.89 L526.87 406.87 L529.25 403.83 L531.63 400.77 L534.01 397.69 L536.40 394.60 L538.78 391.49 L541.16 388.36 L543.54 385.21 L545.92 382.05 L548.31 378.88 L550.69 375.69 L553.07 372.49 L555.45 369.27 L557.83 366.05 L560.22 362.81 L562.60 359.57 L564.98 356.31 L567.36 353.05 L569.74 349.77 L572.13 346.49 L574.51 343.21 L576.89 339.92 L579.27 336.62 L581.65 333.32 L584.04 330.01 L586.42 326.70 L588.80 323.39 L591.18 320.08 L593.56 316.76 L595.95 313.45 L598.33 310.14 L600.71 306.82 L603.09 303.51 L605.47 300.20 L607.85 296.90 L610.24 293.60 L612.62 290.30 L615.00 287.01 L617.38 283.72 L619.76 280.45 L622.15 277.18 L624.53 273.91 L626.91 270.66 L629.29 267.41 L631.67 264.18 L634.06 260.95 L636.44 257.74 L638.82 254.54 L641.20 251.36 L643.58 248.18 L645.97 245.02 L648.35 241.88 L650.73 238.75 L653.11 235.64 L655.49 232.54 L657.88 229.46 L660.26 226.40 L662.64 223.36 L665.02 220.34 L667.40 217.34 L669.79 214.36 L672.17 211.40 L674.55 208.47 L676.93 205.55 L679.31 202.66 L681.70 199.80 L684.08 196.96 L686.46 194.15 L688.84 191.36 L691.22 188.60 L693.61 185.86 L695.99 183.16 L698.37 180.48 L700.75 177.84 L703.13 175.22 L705.52 172.64 L707.90 170.08 L710.28 167.56 L712.66 165.07 L715.04 162.62 L717.42 160.20 L719.81 157.82 L722.19 155.47 L724.57 153.15 L726.95 150.88 L729.33 148.64 L731.72 146.44 L734.10 144.27 L736.48 142.15 L738.86 140.07 L741.24 138.03 L743.63 136.03 L746.01 134.07 L748.39 132.15 L750.77 130.28 L753.15 128.45 L755.54 126.67 L757.92 124.93 L760.30 123.24 L762.68 121.59 L765.06 119.99 L767.45 118.44 L769.83 116.94 L772.21 115.48 L774.59 114.08 L776.97 112.72 L779.36 111.42 L781.74 110.17 L784.12 108.97 L786.50 107.82 L788.88 106.73 L791.27 105.69 L793.65 104.71 L796.03 103.78 L798.41 102.90 L800.79 102.09 L803.18 101.33 L805.56 100.63 L807.94 99.98 L810.32 99.40 L812.70 98.87 L815.08 98.41 L817.47 98.01 L819.85 97.66 L822.23 97.38 L824.61 97.17 L826.99 97.01 L829.38 96.92 L831.76 96.90 L834.14 96.94 L836.52 97.04 L838.90 97.21 L841.29 97.45 L843.67 97.76 L846.05 98.13 L848.43 98.58 L850.81 99.09 L853.20 99.67 L855.58 100.33 L857.96 101.05 L860.34 101.85 L862.72 102.71 L865.11 103.66 L867.49 104.67 L869.87 105.76 L872.25 106.92 L874.63 108.16 L877.02 109.48 L879.40 110.87 L881.78 112.34 L884.16 113.89 L886.54 115.51 L888.93 117.21 L891.31 119.00 L893.69 120.86 L896.07 122.80 L898.45 124.83 L900.84 126.94 L903.22 129.13 L905.60 131.40 L907.98 133.75 L910.36 136.19 L912.75 138.72 L915.13 141.33 L917.51 144.02 L919.89 146.81 L922.27 149.68 L924.65 152.63 L927.04 155.68 L929.42 158.81 L931.80 162.03 L934.18 165.35 L936.56 168.75 L938.95 172.24 L941.33 175.83 L943.71 179.51 L946.09 183.28 L948.47 187.14 L950.86 191.10 L953.24 195.15 L955.62 199.30 L958.00 203.54 L960.38 207.88 L962.77 212.31 L965.15 216.85 L967.53 221.48 L969.91 226.20 L972.29 231.03 L974.68 235.96 L977.06 240.98 L979.44 246.11 L981.82 251.34 L984.20 256.67 L986.59 262.10 L988.97 267.64 L991.35 273.27 L993.73 279.01 L996.11 284.86 L998.50 290.81 L1000.88 296.87 L1003.26 303.03 L1005.64 309.30 L1008.02 315.67 L1010.41 322.16 L1012.79 328.75 L1015.17 335.45 L1017.55 342.26 L1019.93 349.18 L1022.32 356.21 L1024.70 363.35 L1027.08 370.60 L1029.46 377.96 L1031.84 385.44 L1034.22 393.02 L1036.61 400.73 L1038.99 408.54 L1041.37 416.47 L1043.75 424.52 L1046.13 432.68 L1048.52 440.96 L1050.90 449.35 L1053.28 457.86 L1055.66 466.49 L1058.04 475.24 L1060.43 484.10 L1062.81 493.09 L1065.19 502.19 L1067.57 511.42 L1069.95 520.76 L1072.34 530.23 L1074.72 539.82 L1077.10 549.53" fill="none" stroke="#bf00bf" stroke-width="4.10" stroke-dasharray="14.36 6.21" stroke-dashoffset="0.00"/>
<path d="M126.70 225.58 L129.08 228.02 L131.46 230.53 L133.85 233.10 L136.23 235.73 L138.61 238.42 L140.99 241.17 L143.37 243.99 L145.76 246.86 L148.14 249.79 L150.52 252.77 L152.90 255.81 L155.28 258.90 L157.67 262.04 L160.05 265.24 L162.43 268.49 L164.81 271.78 L167.19 275.12 L169.58 278.50 L171.96 281.93 L174.34 285.40 L176.72 288.91 L179.10 292.46 L181.48 296.04 L183.87 299.66 L186.25 303.31 L188.63 307.00 L191.01 310.71 L193.39 314.45 L195.78 318.21 L198.16 322.00 L200.54 325.81 L202.92 329.64 L205.30 333.48 L207.69 337.34 L210.07 341.22 L212.45 345.10 L214.83 348.99 L217.21 352.89 L219.60 356.79 L221.98 360.69 L224.36 364.60 L226.74 368.50 L229.12 372.39 L231.51 376.28 L233.89 380.16 L236.27 384.02 L238.65 387.88 L241.03 391.71 L243.42 395.53 L245.80 399.33 L248.18 403.11 L250.56 406.86 L252.94 410.58 L255.33 414.28 L257.71 417.94 L260.09 421.57 L262.47 425.16 L264.85 428.72 L267.24 432.24 L269.62 435.71 L272.00 439.15 L274.38 442.53 L276.76 445.87 L279.15 449.17 L281.53 452.41 L283.91 455.59 L286.29 458.73 L288.67 461.80 L291.05 464.82 L293.44 467.78 L295.82 470.68 L298.20 473.52 L300.58 476.30 L302.96 479.00 L305.35 481.65 L307.73 484.22 L310.11 486.73 L312.49 489.16 L314.87 491.52 L317.26 493.82 L319.64 496.04 L322.02 498.18 L324.40 500.25 L326.78 502.24 L329.17 504.16 L331.55 506.00 L333.93 507.76 L336.31 509.44 L338.69 511.04 L341.08 512.56 L343.46 514.01 L345.84 515.37 L348.22 516.65 L350.60 517.85 L352.99 518.97 L355.37 520.00 L357.75 520.96 L360.13 521.83 L362.51 522.62 L364.90 523.33 L367.28 523.96 L369.66 524.51 L372.04 524.98 L374.42 525.36 L376.81 525.67 L379.19 525.89 L381.57 526.04 L383.95 526.10 L386.33 526.09 L388.72 526.00 L391.10 525.83 L393.48 525.59 L395.86 525.26 L398.24 524.87 L400.62 524.39 L403.01 523.85 L405.39 523.23 L407.77 522.53 L410.15 521.77 L412.53 520.93 L414.92 520.03 L417.30 519.05 L419.68 518.01 L422.06 516.89 L424.44 515.72 L426.83 514.47 L429.21 513.17 L431.59 511.80 L433.97 510.36 L436.35 508.87 L438.74 507.31 L441.12 505.70 L443.50 504.03 L445.88 502.30 L448.26 500.51 L450.65 498.67 L453.03 496.78 L455.41 494.83 L457.79 492.83 L460.17 490.78 L462.56 488.68 L464.94 486.53 L467.32 484.33 L469.70 482.09 L472.08 479.80 L474.47 477.47 L476.85 475.09 L479.23 472.67 L481.61 470.21 L483.99 467.70 L486.38 465.16 L488.76 462.58 L491.14 459.96 L493.52 457.30 L495.90 454.61 L498.28 451.88 L500.67 449.11 L503.05 446.32 L505.43 443.49 L507.81 440.63 L510.19 437.73 L512.58 434.81 L514.96 431.86 L517.34 428.87 L519.72 425.86 L522.10 422.82 L524.49 419.76 L526.87 416.67 L529.25 413.55 L531.63 410.41 L534.01 407.25 L536.40 404.06 L538.78 400.85 L541.16 397.61 L543.54 394.36 L545.92 391.08 L548.31 387.79 L550.69 384.47 L553.07 381.14 L555.45 377.78 L557.83 374.41 L560.22 371.03 L562.60 367.62 L564.98 364.20 L567.36 360.76 L569.74 357.31 L572.13 353.84 L574.51 350.36 L576.89 346.87 L579.27 343.36 L581.65 339.85 L584.04 336.32 L586.42 332.78 L588.80 329.23 L591.18 325.67 L593.56 322.10 L595.95 318.52 L598.33 314.93 L600.71 311.34 L603.09 307.75 L605.47 304.14 L607.85 300.54 L610.24 296.92 L612.62 293.31 L615.00 289.69 L617.38 286.07 L619.76 282.45 L622.15 278.83 L624.53 275.22 L626.91 271.60 L629.29 267.98 L631.67 264.37 L634.06 260.77 L636.44 257.17 L638.82 253.58 L641.20 249.99 L643.58 246.41 L645.97 242.84 L648.35 239.29 L650.73 235.74 L653.11 232.21 L655.49 228.69 L657.88 225.19 L660.26 221.70 L662.64 218.23 L665.02 214.78 L667.40 211.35 L669.79 207.95 L672.17 204.56 L674.55 201.20 L676.93 197.86 L679.31 194.55 L681.70 191.27 L684.08 188.01 L686.46 184.79 L688.84 181.60 L691.22 178.44 L693.61 175.32 L695.99 172.23 L698.37 169.18 L700.75 166.17 L703.13 163.19 L705.52 160.26 L707.90 157.38 L710.28 154.54 L712.66 151.74 L715.04 148.99 L717.42 146.29 L719.81 143.64 L722.19 141.04 L724.57 138.49 L726.95 135.99 L729.33 133.56 L731.72 131.17 L734.10 128.85 L736.48 126.59 L738.86 124.38 L741.24 122.24 L743.63 120.16 L746.01 118.14 L748.39 116.19 L750.77 114.31 L753.15 112.49 L755.54 110.75 L757.92 109.07 L760.30 107.46 L762.68 105.93 L765.06 104.47 L767.45 103.08 L769.83 101.76 L772.21 100.52 L774.59 99.36 L776.97 98.27 L779.36 97.26 L781.74 96.33 L784.12 95.48 L786.50 94.71 L788.88 94.02 L791.27 93.41 L793.65 92.88 L796.03 92.43 L798.41 92.06 L800.79 91.77 L803.18 91.57 L805.56 91.45 L807.94 91.41 L810.32 91.45 L812.70 91.58 L815.08 91.78 L817.47 92.07 L819.85 92.45 L822.23 92.90 L824.61 93.44 L826.99 94.05 L829.38 94.75 L831.76 95.53 L834.14 96.39 L836.52 97.33 L838.90 98.35 L841.29 99.44 L843.67 100.62 L846.05 101.87 L848.43 103.19 L850.81 104.60 L853.20 106.07 L855.58 107.62 L857.96 109.25 L860.34 110.94 L862.72 112.70 L865.11 114.54 L867.49 116.44 L869.87 118.41 L872.25 120.44 L874.63 122.54 L877.02 124.70 L879.40 126.92 L881.78 129.20 L884.16 131.54 L886.54 133.94 L888.93 136.39 L891.31 138.90 L893.69 141.46 L896.07 144.07 L898.45 146.73 L900.84 149.43 L903.22 152.19 L905.60 154.98 L907.98 157.82 L910.36 160.70 L912.75 163.61 L915.13 166.57 L917.51 169.55 L919.89 172.57 L922.27 175.63 L924.65 178.71 L927.04 181.82 L929.42 184.95 L931.80 188.11 L934.18 191.29 L936.56 194.49 L938.95 197.70 L941.33 200.94 L943.71 204.18 L946.09 207.44 L948.47 210.71 L950.86 213.99 L953.24 217.28 L955.62 220.57 L958.00 223.86 L960.38 227.15 L962.77 230.44 L965.15 233.73 L967.53 237.02 L969.91 240.30 L972.29 243.57 L974.68 246.83 L977.06 250.08 L979.44 253.31 L981.82 256.54 L984.20 259.74 L986.59 262.93 L988.97 266.10 L991.35 269.24 L993.73 272.37 L996.11 275.47 L998.50 278.54 L1000.88 281.59 L1003.26 284.61 L1005.64 287.60 L1008.02 290.56 L1010.41 293.48 L1012.79 296.38 L1015.17 299.23 L1017.55 302.06 L1019.93 304.84 L1022.32 307.59 L1024.70 310.30 L1027.08 312.96 L1029.46 315.59 L1031.84 318.17 L1034.22 320.72 L1036.61 323.21 L1038.99 325.67 L1041.37 328.08 L1043.75 330.44 L1046.13 332.75 L1048.52 335.02 L1050.90 337.24 L1053.28 339.42 L1055.66 341.54 L1058.04 343.61 L1060.43 345.64 L1062.81 347.61 L1065.19 349.54 L1067.57 351.41 L1069.95 353.23 L1072.34 355.00 L1074.72 356.72 L1077.10 358.39" fill="none" stroke="#ff0000" stroke-width="4.10" stroke-dasharray="24.83 6.21 3.88 6.21" stroke-dashoffset="0.00"/>
</g>
<path d="M153.10 562.96 V555.16 M179.50 562.96 V555.16 M205.90 562.96 V547.36 M232.30 562.96 V555.16 M258.70 562.96 V555.16 M285.10 562.96 V555.16 M311.50 562.96 V555.16 M337.90 562.96 V547.36 M364.30 562.96 V555.16 M390.70 562.96 V555.16 M417.10 562.96 V555.16 M443.50 562.96 V555.16 M469.90 562.96 V547.36 M496.30 562.96 V555.16 M522.70 562.96 V555.16 M549.10 562.96 V555.16 M575.50 562.96 V555.16 M601.90 562.96 V547.36 M628.30 562.96 V555.16 M654.70 562.96 V555.16 M681.10 562.96 V555.16 M707.50 562.96 V555.16 M733.90 562.96 V547.36 M760.30 562.96 V555.16 M786.70 562.96 V555.16 M813.10 562.96 V555.16 M839.50 562.96 V555.16 M865.90 562.96 V547.36 M892.30 562.96 V555.16 M918.70 562.96 V555.16 M945.10 562.96 V555.16 M971.50 562.96 V555.16 M997.90 562.96 V547.36 M1024.30 562.96 V555.16 M1050.70 562.96 V555.16 M1077.10 562.96 V555.16 M126.70 540.60 H142.30 M126.70 518.24 H134.50 M126.70 495.88 H134.50 M126.70 473.52 H134.50 M126.70 451.16 H134.50 M126.70 428.80 H142.30 M126.70 406.44 H134.50 M126.70 384.08 H134.50 M126.70 361.72 H134.50 M126.70 339.36 H134.50 M126.70 317.00 H142.30 M126.70 294.64 H134.50 M126.70 272.28 H134.50 M126.70 249.92 H134.50 M126.70 227.56 H134.50 M126.70 205.20 H142.30 M126.70 182.84 H134.50 M126.70 160.48 H134.50 M126.70 138.12 H134.50 M126.70 115.76 H134.50 M126.70 93.40 H142.30 M126.70 71.04 H134.50 M126.70 48.68 H134.50 M126.70 26.32 H134.50 M126.70 3.96 H134.50" stroke="#000" stroke-width="2.10" fill="none"/>
<path d="M126.70 3.96 V562.96 H1077.10" stroke="#000" stroke-width="2.10" fill="none" stroke-linecap="square" stroke-linejoin="miter"/>
<text font-size="39.80"><tspan x="182.70" y="612.40" textLength="29.00" lengthAdjust="spacingAndGlyphs">−</tspan><tspan x="221.00" y="609.60" text-anchor="middle">3</tspan></text>
<text font-size="39.80"><tspan x="314.70" y="612.40" textLength="29.00" lengthAdjust="spacingAndGlyphs">−</tspan><tspan x="353.00" y="609.60" text-anchor="middle">2</tspan></text>
<text font-size="39.80"><tspan x="446.70" y="612.40" textLength="29.00" lengthAdjust="spacingAndGlyphs">−</tspan><tspan x="485.00" y="609.60" text-anchor="middle">1</tspan></text>
<text x="601.30" y="609.60" font-size="39.80" text-anchor="middle">0</text>
<text x="733.30" y="609.60" font-size="39.80" text-anchor="middle">1</text>
<text x="865.30" y="609.60" font-size="39.80" text-anchor="middle">2</text>
<text x="997.30" y="609.60" font-size="39.80" text-anchor="middle">3</text>
<text font-size="39.80"><tspan x="31.60" y="557.40" textLength="29.00" lengthAdjust="spacingAndGlyphs">−</tspan><tspan x="60.60" y="554.60" letter-spacing="-1.40">1.0</tspan></text>
<text font-size="39.80"><tspan x="31.60" y="445.60" textLength="29.00" lengthAdjust="spacingAndGlyphs">−</tspan><tspan x="60.60" y="442.80" letter-spacing="-1.40">0.5</tspan></text>
<text x="60.60" y="331.00" font-size="39.80" letter-spacing="-1.40">0.0</text>
<text x="60.60" y="219.20" font-size="39.80" letter-spacing="-1.40">0.5</text>
<text x="60.60" y="107.40" font-size="39.80" letter-spacing="-1.40">1.0</text>
<text x="601.70" y="649.10" font-size="44.50" font-style="italic" text-anchor="middle">x</text>
<text transform="translate(23.40 281.40) rotate(-90)" font-size="38.00" font-style="italic" text-anchor="middle">y</text>
<circle cx="217.5" cy="31.75" r="6.90" fill="#000"/>
<path d="M186.10 76.45 H249.00" stroke="#008000" stroke-width="4.10" stroke-linecap="square"/>
<path d="M186.10 121.55 H249.00" stroke="#0000ff" stroke-width="4.10" stroke-linecap="square"/>
<path d="M186.10 166.20 H249.00" stroke="#bf00bf" stroke-width="4.10" stroke-dasharray="14.36 6.21"/>
<path d="M186.10 211.05 H249.00" stroke="#ff0000" stroke-width="4.10" stroke-dasharray="24.83 6.21 3.88 6.21"/>
<rect x="185.7" y="242.7" width="63.6" height="23.3" fill="rgba(255,0,0,0.2)"/>
<rect x="186.70" y="243.70" width="61.60" height="21.30" fill="none" stroke="rgba(255,0,0,0.2)" stroke-width="2.00"/>
<text x="271.70" y="43.30" font-size="32.00" textLength="172.52" lengthAdjust="spacingAndGlyphs">Observations</text>
<text x="273.10" y="87.70" font-size="32.00" textLength="62.85" lengthAdjust="spacingAndGlyphs">True</text>
<text x="343.40" y="87.70" font-size="32.00" textLength="117.07" lengthAdjust="spacingAndGlyphs">Function</text>
<text x="472.10" y="87.70" font-size="32.00" textLength="100.28" lengthAdjust="spacingAndGlyphs">(sin(<tspan font-style="italic">x</tspan>))</text>
<text x="272.10" y="132.70" font-size="32.00" textLength="84.04" lengthAdjust="spacingAndGlyphs">Linear</text>
<text x="368.80" y="132.70" font-size="32.00" textLength="139.25" lengthAdjust="spacingAndGlyphs">Regression</text>
<text x="272.20" y="176.70" font-size="32.00" textLength="150.48" lengthAdjust="spacingAndGlyphs">Polynomial</text>
<text x="431.60" y="176.70" font-size="32.00" textLength="106.58" lengthAdjust="spacingAndGlyphs">(deg=4)</text>
<text x="272.20" y="221.70" font-size="32.00" textLength="120.45" lengthAdjust="spacingAndGlyphs">Gaussian</text>
<text x="402.90" y="221.70" font-size="32.00" textLength="99.56" lengthAdjust="spacingAndGlyphs">Process</text>
<text x="272.20" y="265.70" font-size="32.00" textLength="56.01" lengthAdjust="spacingAndGlyphs">95%</text>
<text x="338.10" y="265.70" font-size="32.00" textLength="145.23" lengthAdjust="spacingAndGlyphs">Confidence</text>
<text x="492.20" y="265.70" font-size="32.00" textLength="104.45" lengthAdjust="spacingAndGlyphs">Interval</text>
</svg>
</body></html>
